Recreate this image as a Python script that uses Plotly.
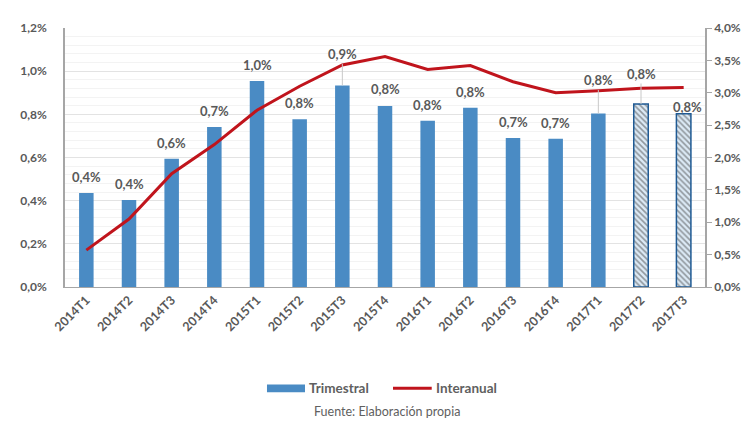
import plotly.graph_objects as go

categories = ["2014T1", "2014T2", "2014T3", "2014T4", "2015T1", "2015T2", "2015T3", "2015T4",
              "2016T1", "2016T2", "2016T3", "2016T4", "2017T1", "2017T2", "2017T3"]
trimestral = [0.435, 0.403, 0.594, 0.741, 0.955, 0.777, 0.934, 0.839,
              0.770, 0.831, 0.690, 0.687, 0.804, 0.848, 0.803]
interanual = [0.57, 1.05, 1.75, 2.20, 2.73, 3.10, 3.43, 3.56,
              3.36, 3.42, 3.17, 3.00, 3.03, 3.07, 3.08]
estimated = [False] * 13 + [True, True]

# label offsets above bar tops (px) and whether a leader line is drawn
label_offsets = [16, 16, 16, 16, 16, 16, 31, 17, 16, 16, 16, 16, 33, 30, 7]
leader = [False] * 6 + [True] + [False] * 5 + [True, True, False]
label_dx = [0] * 14 + [4]

BLUE = "#4A8BC4"
RED = "#C0141C"
GRAY = "#595959"
FONT = "Lato"

fig = go.Figure()

fig.add_trace(go.Bar(
    x=categories, y=trimestral, name="Trimestral",
    marker=dict(
        color=[("#DCEAF6" if e else BLUE) for e in estimated],
        line=dict(color=[("#1F5A94" if e else BLUE) for e in estimated],
                  width=[1.5 if e else 0 for e in estimated]),
        pattern=dict(shape=[("\\" if e else "") for e in estimated],
                     fgcolor="#2F72B3", bgcolor="#DCEAF6", size=4, solidity=0.4),
    ),
    width=0.34, yaxis="y", showlegend=False,
))

fig.add_trace(go.Scatter(
    x=categories, y=interanual, name="Interanual", mode="lines",
    line=dict(color=RED, width=3), yaxis="y2", showlegend=False,
))

for i, (c, v) in enumerate(zip(categories, trimestral)):
    txt = f"{v:.1f}".replace(".", ",") + "%"
    fig.add_annotation(
        x=c, y=v, xref="x", yref="y", text=txt,
        showarrow=True, arrowhead=0, arrowwidth=1,
        arrowcolor="#C8C8C8" if leader[i] else "rgba(0,0,0,0)",
        ax=label_dx[i], ay=-label_offsets[i], standoff=0,
        font=dict(family=FONT, size=13, color=GRAY, weight="bold"),
    )

# custom legend
LEG_Y = -0.391
fig.add_shape(type="rect", xref="paper", yref="paper",
              x0=0.3156, x1=0.375, y0=-0.406, y1=-0.376,
              fillcolor=BLUE, line=dict(width=0))
fig.add_annotation(x=0.378, y=LEG_Y, xref="paper", yref="paper", showarrow=False,
                   text="Trimestral", xanchor="left", yanchor="middle",
                   font=dict(family=FONT, size=13.5, color="#606060", weight="bold"))
fig.add_shape(type="line", xref="paper", yref="paper",
              x0=0.5125, x1=0.573, y0=LEG_Y, y1=LEG_Y,
              line=dict(color=RED, width=3))
fig.add_annotation(x=0.576, y=LEG_Y, xref="paper", yref="paper", showarrow=False,
                   text="Interanual", xanchor="left", yanchor="middle",
                   font=dict(family=FONT, size=13.5, color="#606060", weight="bold"))

fig.add_annotation(
    x=0.503, y=-0.481, xref="paper", yref="paper", showarrow=False,
    text="Fuente: Elaboración propia", xanchor="center", yanchor="middle",
    font=dict(family=FONT, size=12.5, color="#606060"),
)

fig.update_layout(
    width=755, height=425,
    margin=dict(l=57, r=58, t=13, b=146),
    paper_bgcolor="white", plot_bgcolor="white",
    separators=",.",
    bargap=0.6,
    showlegend=False,
    xaxis=dict(
        tickangle=-45, showgrid=False, showline=True, linecolor="#A6A6A6", linewidth=1,
        tickfont=dict(family=FONT, size=12.5, color=GRAY, weight="bold"),
        ticks="",
    ),
    yaxis=dict(
        range=[0, 1.2], dtick=0.2, tickformat=".1f", ticksuffix="%",
        showline=True, linecolor="#A6A6A6", linewidth=1.5,
        gridcolor="#E3E3E3", gridwidth=1, zeroline=False,
        minor=dict(dtick=0.04, showgrid=True, gridcolor="#F3F3F3", gridwidth=1),
        tickfont=dict(family=FONT, size=12, color=GRAY, weight="bold"),
        ticks="", ticklabelstandoff=14,
    ),
    yaxis2=dict(
        range=[0, 4.0], dtick=0.5, tickformat=".1f", ticksuffix="%",
        overlaying="y", side="right", showgrid=False, zeroline=False,
        showline=True, linecolor="#A6A6A6", linewidth=1.5,
        ticks="outside", ticklen=5, tickcolor="#A6A6A6",
        tickfont=dict(family=FONT, size=12, color=GRAY, weight="bold"),
    ),
)

fig.write_html("out.html")
